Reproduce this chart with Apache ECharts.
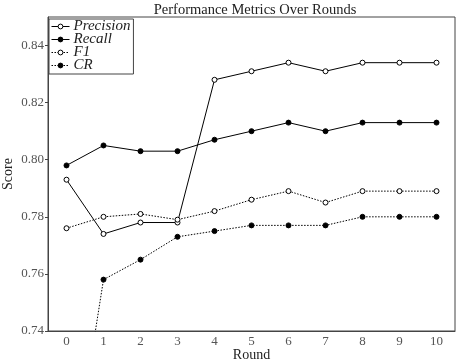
<!DOCTYPE html>
<html><head><meta charset="utf-8">
<script src="https://cdn.jsdelivr.net/npm/echarts@6/dist/echarts.min.js"></script>
<style>html,body{margin:0;padding:0;background:#fff}#c{width:456px;height:362px}</style>
</head><body><div id="c"></div>
<script>
const rounds = ['0','1','2','3','4','5','6','7','8','9','10'];
const precision = [0.793,0.774,0.778,0.778,0.828,0.831,0.834,0.831,0.834,0.834,0.834];
const recall = [0.798,0.805,0.803,0.803,0.807,0.810,0.813,0.810,0.813,0.813,0.813];
const f1 = [0.776,0.780,0.781,0.779,0.782,0.786,0.789,0.785,0.789,0.789,0.789];
const cr = [0.676,0.758,0.765,0.773,0.775,0.777,0.777,0.777,0.780,0.780,0.780];
const yTicks = [0.74,0.76,0.78,0.80,0.82,0.84];

const FONT = 'Liberation Serif';
function mk(name, data, filled, dotted) {
  return {
    name, type: 'line', data,
    symbol: 'circle', symbolSize: 5,
    itemStyle: { color: filled ? '#000' : '#fff', borderColor: '#000', borderWidth: 1 },
    lineStyle: { color: '#000', width: 1, type: dotted ? [1.5, 1.5] : 'solid' },
    emphasis: { disabled: true },
    clip: true, animation: false
  };
}
const chart = echarts.init(document.getElementById('c'), null, { renderer: 'canvas' });
chart.setOption({
  animation: false,
  title: { text: 'Performance Metrics Over Rounds', left: 250, textAlign: 'center', top: -2,
    textStyle: { fontFamily: FONT, fontSize: 14.5, fontWeight: 'normal', color: '#222' } },
  grid: { left: 48, right: 1, top: 17, bottom: 31, show: true, borderColor: '#444', borderWidth: 1,
    containLabel: false, outerBoundsMode: 'none' },
  legend: {
    left: 49, top: 19, orient: 'vertical', itemGap: -2, itemWidth: 18, itemHeight: 6,
    padding: [0, 3, 1, 2], borderColor: '#444', borderWidth: 1, backgroundColor: '#fff',
    lineStyle: { width: 1 },
    itemStyle: { borderWidth: 1 },
    textStyle: { fontFamily: FONT, fontSize: 15, fontStyle: 'italic', color: '#222', padding: [0,0,0,-1] },
    data: ['Precision', 'Recall', 'F1', 'CR']
  },
  xAxis: {
    type: 'category', data: rounds, boundaryGap: true,
    name: 'Round', nameLocation: 'middle', nameGap: 17, nameMoveOverlap: false,
    nameTextStyle: { fontFamily: FONT, fontSize: 14, color: '#222' },
    axisLine: { lineStyle: { color: '#444', width: 1 } },
    axisTick: { alignWithLabel: true, length: 3, lineStyle: { color: '#444' } },
    axisLabel: { fontFamily: FONT, fontSize: 13, color: '#555', margin: 4 },
    splitLine: { show: false }
  },
  yAxis: {
    type: 'value', min: 0.74, max: 0.85, interval: 0.02,
    name: 'Score', nameLocation: 'middle', nameGap: 33, nameMoveOverlap: false,
    nameTextStyle: { fontFamily: FONT, fontSize: 14, color: '#222', padding: [0, 0, 0, 0] },
    axisLine: { show: true, lineStyle: { color: '#444', width: 1 } },
    axisTick: { show: true, length: 3, customValues: yTicks, lineStyle: { color: '#444' } },
    axisLabel: { fontFamily: FONT, fontSize: 13, color: '#555', margin: 4, customValues: yTicks,
      formatter: v => v.toFixed(2) },
    splitLine: { show: false }
  },
  series: [
    mk('Precision', precision, false, false),
    mk('Recall', recall, true, false),
    mk('F1', f1, false, true),
    mk('CR', cr, true, true)
  ]
});
</script></body></html>
